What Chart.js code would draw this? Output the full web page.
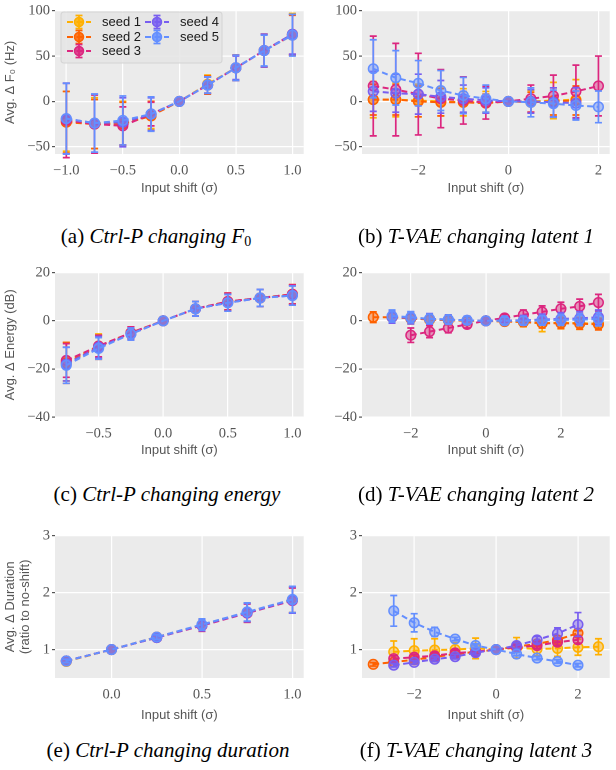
<!DOCTYPE html>
<html><head><meta charset="utf-8">
<script src="https://cdn.jsdelivr.net/npm/chart.js@4.4.1/dist/chart.umd.min.js"></script>
<style>
html,body{margin:0;padding:0;background:#fff;}
#fig{position:relative;width:616px;height:770px;overflow:hidden;background:#fff;}
#fig canvas{position:absolute;}
.cap{position:absolute;font-family:"Liberation Serif","Times New Roman",serif;font-size:21px;color:#000;white-space:nowrap;transform:translate(-50%,-50%);}
.cap sub{font-size:14px;font-style:normal;vertical-align:-3px;line-height:0;}
</style></head><body>
<div id="fig">
<canvas id="cA" width="310" height="200" style="left:0px;top:0px;width:310px;height:200px"></canvas>
<canvas id="cB" width="310" height="200" style="left:306px;top:0px;width:310px;height:200px"></canvas>
<canvas id="cC" width="310" height="200" style="left:0px;top:262px;width:310px;height:200px"></canvas>
<canvas id="cD" width="310" height="200" style="left:306px;top:262px;width:310px;height:200px"></canvas>
<canvas id="cE" width="310" height="200" style="left:0px;top:525px;width:310px;height:200px"></canvas>
<canvas id="cF" width="310" height="200" style="left:306px;top:525px;width:310px;height:200px"></canvas>
<div class="cap" style="left:156px;top:236px">(a) <i>Ctrl-P changing F</i><sub>0</sub></div>
<div class="cap" style="left:476px;top:236px">(b) <i>T-VAE changing latent 1</i></div>
<div class="cap" style="left:167px;top:494px">(c) <i>Ctrl-P changing energy</i></div>
<div class="cap" style="left:476px;top:494px">(d) <i>T-VAE changing latent 2</i></div>
<div class="cap" style="left:168px;top:750px">(e) <i>Ctrl-P changing duration</i></div>
<div class="cap" style="left:476px;top:750px">(f) <i>T-VAE changing latent 3</i></div>
</div>
<script>
// ---------- series meta ----------
const seedNames = ['seed 1','seed 2','seed 3','seed 4','seed 5'];
const seedColors = ['#FFB000','#FE6100','#DC267F','#785EF0','#648FFF'];

// ---------- (a) Ctrl-P changing F0 ----------
const aX = [-1, -0.75, -0.5, -0.25, 0, 0.25, 0.5, 0.75, 1];
const aMean1 = [-22, -24, -24, -15, 0, 19, 37, 56, 74];
const aErr1  = [33, 28, 24, 15, 0, 10, 14, 18, 23];
const aMean2 = [-23, -25, -25, -16, 0, 18, 37, 56, 73];
const aErr2  = [34, 27, 24, 16, 0, 10, 14, 18, 22];
const aMean3 = [-21, -25, -27, -14, 0, 18, 37, 56, 74];
const aErr3  = [41, 32, 21, 13, 0, 9, 14, 18, 22];
const aMean4 = [-19, -24, -23, -14, 0, 18, 37, 56, 74];
const aErr4  = [39, 32, 27, 18, 0, 9, 13, 18, 22];
const aMean5 = [-19, -24, -21, -14, 0, 18, 37, 56, 73];
const aErr5  = [39, 32, 27, 19, 0, 9, 14, 17, 23];
const aXTicks = [-1, -0.5, 0, 0.5, 1];
const aXTickLabels = ['\u22121.0', '\u22120.5', '0.0', '0.5', '1.0'];
const aYTicks = [-50, 0, 50, 100];
const aYTickLabels = ['\u221250', '0', '50', '100'];

// ---------- (b) T-VAE changing latent 1 ----------
const bX = [-3, -2.5, -2, -1.5, -1, -0.5, 0, 0.5, 1, 1.5, 2];
const bMean1 = [2, 2, 1, 0, -1, -1, 0, 0, 1, 2, null];
const bErr1  = [20, 19, 18, 16, 15, 12, 0, 12, 20, 22, null];
const bMean2 = [2, 2, 0, -1, -1, -2, 0, -1, 0, 1, null];
const bErr2  = [17, 17, 17, 15, 12, 10, 0, 11, 15, 16, null];
const bMean3 = [17, 13, 8, 3, 1, -1.5, 0, 3, 6, 11, 17];
const bErr3  = [55, 51, 45, 32, 26, 18, 0, 15, 23, 29, 33];
const bMean4 = [11, 9, 8, 5, 3, 1, 0, 0, -1, -2, null];
const bErr4  = [22, 21, 22, 18, 15, 14, 0, 13, 16, 17, null];
const bMean5 = [36, 26, 20, 12, 6.5, 3, 0, -1, -2.5, -4.5, -6];
const bErr5  = [32, 30, 25, 22, 20, 15, 0, 16, 15, 16, 17.5];
const bXTicks = [-2, 0, 2];
const bXTickLabels = ['\u22122', '0', '2'];
const bYTicks = [-50, 0, 50, 100];
const bYTickLabels = ['\u221250', '0', '50', '100'];

// ---------- (c) Ctrl-P changing energy ----------
const cX = [-0.75, -0.5, -0.25, 0, 0.25, 0.5, 0.75, 1];
const cMean1 = [-17, -10.5, -5, 0, 5, 8, 9.5, 11];
const cErr1  = [8, 5, 2.5, 0, 3, 3.5, 3.5, 4];
const cMean2 = [-17.5, -11, -5, 0, 5, 8, 9.5, 11];
const cErr2  = [8.5, 5, 2.5, 0, 3, 3.5, 3.5, 4];
const cMean3 = [-16.5, -10.5, -5, 0, 5, 8, 9.5, 11];
const cErr3  = [7, 4.5, 2.5, 0, 3, 3.5, 3.5, 4];
const cMean4 = [-18, -11, -5.5, 0, 5, 7.5, 9.5, 10.5];
const cErr4  = [7, 4.5, 2.5, 0, 3, 3.5, 3.5, 4];
const cMean5 = [-18.5, -11.5, -5.5, 0, 5, 7.5, 9.5, 10.5];
const cErr5  = [7.5, 4.5, 2.5, 0, 3, 3.5, 3.5, 4];
const cXTicks = [-0.5, 0, 0.5, 1];
const cXTickLabels = ['\u22120.5', '0.0', '0.5', '1.0'];
const cYTicks = [-40, -20, 0, 20];
const cYTickLabels = ['\u221240', '\u221220', '0', '20'];

// ---------- (d) T-VAE changing latent 2 ----------
const dX = [-3, -2.5, -2, -1.5, -1, -0.5, 0, 0.5, 1, 1.5, 2, 2.5, 3];
const dMean1 = [null, 1.5, 1, 0.5, 0.3, 0, 0, -0.2, -0.5, -1, -0.8, -1, -1.2];
const dErr1  = [null, 2.5, 2.3, 2.2, 2, 1.7, 0, 1.6, 2, 3.5, 2.5, 2.5, 2.5];
const dMean2 = [1.5, 1.5, 1, 0.5, 0.3, 0, 0, -0.3, -0.5, -1, -1, -1.2, -1.5];
const dErr2  = [2.2, 2, 2, 2, 1.8, 1.5, 0, 1.5, 1.8, 2, 2.2, 2.3, 2.3];
const dMean3 = [null, null, -6, -4.5, -3, -1.5, 0, 1.2, 2.5, 3.7, 5, 6, 7.6];
const dErr3  = [null, null, 3, 2.5, 2, 1.5, 0, 1.5, 2, 2.5, 2.7, 3, 3.4];
const dMean4 = [null, 1.5, 1.2, 0.8, 0.5, 0.2, 0, 0.1, 0.2, 0.5, 0.8, 1, 1.5];
const dErr4  = [null, 2.5, 2.5, 2.2, 2, 1.7, 0, 1.6, 2, 2.3, 2.6, 2.8, 3];
const dMean5 = [null, 2, 1.5, 0.8, 0.5, 0.2, 0, 0, 0, 0.2, 0.4, 0.5, 0.7];
const dErr5  = [null, 2.5, 2.3, 2, 1.8, 1.5, 0, 1.4, 1.8, 2, 2.3, 2.5, 2.8];
const dXTicks = [-2, 0, 2];
const dXTickLabels = ['\u22122', '0', '2'];
const dYTicks = [-40, -20, 0, 20];
const dYTickLabels = ['\u221240', '\u221220', '0', '20'];

// ---------- (e) Ctrl-P changing duration ----------
const eX = [-0.25, 0, 0.25, 0.5, 0.75, 1];
const eMean1 = [0.79, 1, 1.21, 1.43, 1.65, 1.87];
const eErr1  = [0.03, 0, 0.04, 0.11, 0.17, 0.23];
const eMean2 = [0.80, 1, 1.22, 1.43, 1.65, 1.87];
const eErr2  = [0.03, 0, 0.04, 0.10, 0.16, 0.22];
const eMean3 = [0.80, 1, 1.21, 1.42, 1.64, 1.86];
const eErr3  = [0.03, 0, 0.04, 0.10, 0.16, 0.22];
const eMean4 = [0.80, 1, 1.21, 1.43, 1.65, 1.87];
const eErr4  = [0.03, 0, 0.04, 0.10, 0.16, 0.23];
const eMean5 = [0.80, 1, 1.22, 1.44, 1.66, 1.88];
const eErr5  = [0.03, 0, 0.04, 0.10, 0.16, 0.23];
const eXTicks = [0, 0.5, 1];
const eXTickLabels = ['0.0', '0.5', '1.0'];
const eYTicks = [1, 2, 3];
const eYTickLabels = ['1', '2', '3'];

// ---------- (f) T-VAE changing latent 3 ----------
const fX = [-3, -2.5, -2, -1.5, -1, -0.5, 0, 0.5, 1, 1.5, 2, 2.5];
const fMean1 = [null, 0.96, 0.98, 0.99, 1.0, 1.02, 1, 1.03, 1.01, 1.02, 1.04, 1.05];
const fErr1  = [null, 0.19, 0.21, 0.2, 0.12, 0.18, 0, 0.18, 0.12, 0.14, 0.14, 0.14];
const fMean2 = [0.74, 0.78, 0.82, 0.87, 0.92, 0.96, 1, 1.05, 1.1, 1.17, 1.29, null];
const fErr2  = [0.03, 0.03, 0.03, 0.03, 0.03, 0.03, 0, 0.03, 0.04, 0.04, 0.04, null];
const fMean3 = [null, 0.84, 0.865, 0.89, 0.94, 0.96, 1, 1.04, 1.07, 1.13, 1.17, null];
const fErr3  = [null, 0.05, 0.05, 0.05, 0.05, 0.04, 0, 0.04, 0.05, 0.06, 0.06, null];
const fMean4 = [null, 0.725, 0.775, 0.83, 0.875, 0.945, 1, 1.07, 1.17, 1.28, 1.44, null];
const fErr4  = [null, 0.03, 0.03, 0.04, 0.04, 0.04, 0, 0.05, 0.06, 0.1, 0.21, null];
const fMean5 = [null, 1.68, 1.47, 1.31, 1.185, 1.07, 1, 0.92, 0.85, 0.79, 0.725, null];
const fErr5  = [null, 0.27, 0.16, 0.08, 0.03, 0.03, 0, 0.03, 0.03, 0.03, 0.03, null];
const fXTicks = [-2, 0, 2];
const fXTickLabels = ['\u22122', '0', '2'];
const fYTicks = [1, 2, 3];
const fYTickLabels = ['1', '2', '3'];

// ---------- helpers ----------
function rgba(hex, a){
  const n = parseInt(hex.slice(1), 16);
  return `rgba(${(n>>16)&255},${(n>>8)&255},${n&255},${a})`;
}
const PLOT_BG = '#EBEBEB';
const TICK_FONT = {family: "'Liberation Serif', 'DejaVu Serif', serif", size: 14.5};
const LABEL_FONT = {family: "'Liberation Sans', Arial, sans-serif", size: 13, lineHeight: 1.15};
const TEXT_GREY = '#555555';

const bgPlugin = {
  id: 'plotBg',
  beforeDraw(chart){
    const a = chart.chartArea, ctx = chart.ctx;
    ctx.save(); ctx.fillStyle = PLOT_BG;
    ctx.fillRect(a.left, a.top, a.right - a.left, a.bottom - a.top);
    ctx.restore();
  }
};

const errPlugin = {
  id: 'errBars',
  beforeDatasetDraw(chart, args){
    const ds = chart.data.datasets[args.index];
    const ys = chart.scales.y, ctx = chart.ctx;
    ctx.save();
    ctx.strokeStyle = ds.borderColor; ctx.lineWidth = 1.7; ctx.setLineDash([]);
    args.meta.data.forEach((pt, j) => {
      const d = ds.data[j];
      if (!d || !d.e) return;
      const y1 = ys.getPixelForValue(d.y - d.e), y2 = ys.getPixelForValue(d.y + d.e);
      const x = pt.x, c = 3.5;
      ctx.beginPath();
      ctx.moveTo(x, y1); ctx.lineTo(x, y2);
      ctx.moveTo(x - c, y1); ctx.lineTo(x + c, y1);
      ctx.moveTo(x - c, y2); ctx.lineTo(x + c, y2);
      ctx.stroke();
    });
    ctx.restore();
  }
};

const legendPlugin = {
  id: 'seedLegend',
  afterDraw(chart, args, opts){
    if (!opts || !opts.show) return;
    const ctx = chart.ctx;
    const bx = 61, by = 12, bw = 161, bh = 51, r = 3;
    ctx.save();
    ctx.beginPath();
    ctx.moveTo(bx + r, by); ctx.lineTo(bx + bw - r, by); ctx.quadraticCurveTo(bx + bw, by, bx + bw, by + r);
    ctx.lineTo(bx + bw, by + bh - r); ctx.quadraticCurveTo(bx + bw, by + bh, bx + bw - r, by + bh);
    ctx.lineTo(bx + r, by + bh); ctx.quadraticCurveTo(bx, by + bh, bx, by + bh - r);
    ctx.lineTo(bx, by + r); ctx.quadraticCurveTo(bx, by, bx + r, by);
    ctx.closePath();
    ctx.fillStyle = 'rgba(229,229,229,0.85)'; ctx.fill();
    ctx.strokeStyle = '#D4D4D4'; ctx.lineWidth = 1; ctx.stroke();
    const cols = [{h0: 67, h1: 91, tx: 102}, {h0: 145, h1: 169, tx: 180}];
    const rows = [22, 37, 51];
    seedNames.forEach((name, i) => {
      const col = cols[i < 3 ? 0 : 1], y = rows[i < 3 ? i : i - 3];
      const c = seedColors[i], cx = (col.h0 + col.h1) / 2;
      ctx.strokeStyle = c; ctx.lineWidth = 2; ctx.setLineDash([6, 3.5]);
      ctx.beginPath(); ctx.moveTo(col.h0, y); ctx.lineTo(col.h1, y); ctx.stroke();
      ctx.setLineDash([]); ctx.lineWidth = 1.7;
      ctx.beginPath();
      ctx.moveTo(cx, y - 6.5); ctx.lineTo(cx, y + 6.5);
      ctx.moveTo(cx - 3.5, y - 6.5); ctx.lineTo(cx + 3.5, y - 6.5);
      ctx.moveTo(cx - 3.5, y + 6.5); ctx.lineTo(cx + 3.5, y + 6.5);
      ctx.stroke();
      ctx.beginPath(); ctx.arc(cx, y, 4.5, 0, Math.PI * 2);
      ctx.fillStyle = rgba(c, 0.85); ctx.fill();
      ctx.lineWidth = 1.5; ctx.strokeStyle = c; ctx.stroke();
      ctx.fillStyle = '#1a1a1a'; ctx.font = "13px 'Liberation Sans', Arial, sans-serif";
      ctx.textBaseline = 'middle'; ctx.textAlign = 'left';
      ctx.fillText(name, col.tx, y + 0.5);
    });
    ctx.restore();
  }
};

function buildDatasets(xs, means, errs){
  return means.map((m, i) => {
    const pts = [];
    xs.forEach((x, j) => { if (m[j] !== null && m[j] !== undefined) pts.push({x: x, y: m[j], e: errs[i][j]}); });
    const c = seedColors[i];
    return {
      label: seedNames[i], data: pts,
      borderColor: c, backgroundColor: rgba(c, 0.45),
      borderWidth: 2, borderDash: [6, 3.5], fill: false, tension: 0,
      pointRadius: 4.8, pointBorderWidth: 1.5,
      pointBackgroundColor: rgba(c, 0.45), pointBorderColor: c,
      order: 4 - i
    };
  });
}

function makeChart(id, p){
  const ctx = document.getElementById(id).getContext('2d');
  return new Chart(ctx, {
    type: 'line',
    data: {datasets: buildDatasets(p.xs, p.means, p.errs)},
    options: {
      responsive: false, animation: false, devicePixelRatio: 2,
      layout: {padding: {top: 7, right: 3, left: 0, bottom: 0}},
      plugins: {legend: {display: false}, tooltip: {enabled: false}, seedLegend: {show: !!p.legend}},
      scales: {
        x: {
          type: 'linear', min: p.xMin, max: p.xMax,
          afterBuildTicks: s => { s.ticks = p.xTicks.map(v => ({value: v})); },
          afterFit: s => { s.height = p.xH; },
          ticks: {autoSkip: false, maxRotation: 0, font: TICK_FONT, color: TEXT_GREY, padding: 4,
                  callback: v => { const k = p.xTicks.indexOf(v); return k >= 0 ? p.xTickLabels[k] : ''; }},
          grid: {color: '#FFFFFF', lineWidth: 1.2, drawTicks: true, tickLength: 4, tickColor: 'rgba(0,0,0,0)'},
          border: {display: false},
          title: {display: true, text: 'Input shift (\u03C3)', font: LABEL_FONT, color: TEXT_GREY, padding: {top: 0, bottom: p.xTitlePad}}
        },
        y: {
          type: 'linear', min: p.yMin, max: p.yMax,
          afterBuildTicks: s => { s.ticks = p.yTicks.map(v => ({value: v})); },
          afterFit: s => { s.width = p.yW; },
          ticks: {autoSkip: false, font: TICK_FONT, color: TEXT_GREY, padding: 2,
                  callback: v => { const k = p.yTicks.indexOf(v); return k >= 0 ? p.yTickLabels[k] : ''; }},
          grid: {color: '#FFFFFF', lineWidth: 1.2, drawTicks: true, tickLength: 3, tickColor: TEXT_GREY},
          border: {display: false},
          title: {display: !!p.yTitle, text: p.yTitle || '', font: LABEL_FONT, color: TEXT_GREY, padding: {top: 3, bottom: 0}}
        }
      }
    },
    plugins: [bgPlugin, errPlugin, legendPlugin]
  });
}

makeChart('cA', {xs: aX, means: [aMean1, aMean2, aMean3, aMean4, aMean5], errs: [aErr1, aErr2, aErr3, aErr4, aErr5],
  xMin: -1.1, xMax: 1.1, yMin: -58, yMax: 100, xTicks: aXTicks, xTickLabels: aXTickLabels,
  yTicks: aYTicks, yTickLabels: aYTickLabels, yTitle: 'Avg. \u0394 F\u2080 (Hz)', xH: 46, yW: 55, xTitlePad: 4, legend: true});
makeChart('cB', {xs: bX, means: [bMean1, bMean2, bMean3, bMean4, bMean5], errs: [bErr1, bErr2, bErr3, bErr4, bErr5],
  xMin: -3.25, xMax: 2.25, yMin: -58, yMax: 100, xTicks: bXTicks, xTickLabels: bXTickLabels,
  yTicks: bYTicks, yTickLabels: bYTickLabels, yTitle: null, xH: 46, yW: 56, xTitlePad: 4});
makeChart('cC', {xs: cX, means: [cMean1, cMean2, cMean3, cMean4, cMean5], errs: [cErr1, cErr2, cErr3, cErr4, cErr5],
  xMin: -0.8375, xMax: 1.0875, yMin: -40, yMax: 20, xTicks: cXTicks, xTickLabels: cXTickLabels,
  yTicks: cYTicks, yTickLabels: cYTickLabels, yTitle: 'Avg. \u0394 Energy (dB)', xH: 45, yW: 55, xTitlePad: 4});
makeChart('cD', {xs: dX, means: [dMean1, dMean2, dMean3, dMean4, dMean5], errs: [dErr1, dErr2, dErr3, dErr4, dErr5],
  xMin: -3.3, xMax: 3.3, yMin: -40, yMax: 20, xTicks: dXTicks, xTickLabels: dXTickLabels,
  yTicks: dYTicks, yTickLabels: dYTickLabels, yTitle: null, xH: 45, yW: 56, xTitlePad: 4});
makeChart('cE', {xs: eX, means: [eMean1, eMean2, eMean3, eMean4, eMean5], errs: [eErr1, eErr2, eErr3, eErr4, eErr5],
  xMin: -0.3125, xMax: 1.0625, yMin: 0.5, yMax: 3, xTicks: eXTicks, xTickLabels: eXTickLabels,
  yTicks: eYTicks, yTickLabels: eYTickLabels, yTitle: ['Avg. \u0394 Duration', '(ratio to no-shift)'], xH: 47, yW: 55, xTitlePad: 2});
makeChart('cF', {xs: fX, means: [fMean1, fMean2, fMean3, fMean4, fMean5], errs: [fErr1, fErr2, fErr3, fErr4, fErr5],
  xMin: -3.275, xMax: 2.775, yMin: 0.5, yMax: 3, xTicks: fXTicks, xTickLabels: fXTickLabels,
  yTicks: fYTicks, yTickLabels: fYTickLabels, yTitle: null, xH: 47, yW: 56, xTitlePad: 2});
</script>
</body></html>
